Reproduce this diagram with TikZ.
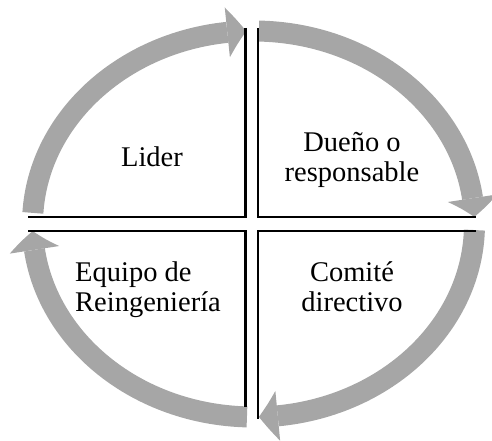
\documentclass[tikz,border=0pt]{standalone}
\usepackage{fontspec}
\setmainfont{Liberation Serif}
\usetikzlibrary{arrows.meta,bending}
\definecolor{arcgray}{HTML}{A6A6A6}
\tikzset{
  cyc/.style={draw=arcgray, line width=21pt,
    -{Triangle[width=50pt,length=19pt,line width=0pt,bend]}},
  quad/.style={draw=black, line width=2.5pt, miter limit=10},
  lbl/.style={inner sep=0pt, font=\fontsize{28.5}{30}\selectfont}
}
\begin{document}
\begin{tikzpicture}[x=1pt,y=1pt]
\useasboundingbox (0,0) rectangle (492,441);
\clip (0,0) rectangle (492,441);
\coordinate (C) at (253.5,217);
% circular arrows
\draw[cyc] (C) ++(176.7:221 and 193) arc[start angle=176.7, end angle=91.9, x radius=221, y radius=193];
\draw[cyc] (C) ++(88.6:221 and 193) arc[start angle=88.6, end angle=2.1, x radius=221, y radius=193];
\draw[cyc] (C) ++(-1.8:221 and 193) arc[start angle=-1.8, end angle=-88.6, x radius=221, y radius=193];
\draw[cyc] (C) ++(-91.7:221 and 193) arc[start angle=-91.7, end angle=-177.9, x radius=221, y radius=193];
% quadrant lines
\coordinate (tl1) at (245.5,413); \coordinate (tl2) at (245.5,224); \coordinate (tl3) at (28,224);
\coordinate (tr1) at (258,413); \coordinate (tr2) at (258,224); \coordinate (tr3) at (476,224);
\coordinate (bl1) at (28,210); \coordinate (bl2) at (245.5,210); \coordinate (bl3) at (245.5,34);
\coordinate (br1) at (476,210); \coordinate (br2) at (258,210); \coordinate (br3) at (258,22);
\draw[quad] (tl1) -- (tl2) -- (tl3);
\draw[quad] (tr1) -- (tr2) -- (tr3);
\draw[quad] (bl1) -- (bl2) -- (bl3);
\draw[quad] (br1) -- (br2) -- (br3);
% labels (base anchor = baseline of last line)
\node[lbl, anchor=base] (lider) at (152,274) {Lider};
\node[lbl, anchor=base, align=center] (dueno) at (352,259.3) {Dueño o\\responsable};
\node[lbl, anchor=base west, align=left] (equipo) at (75,129.3) {Equipo de\\Reingeniería};
\node[lbl, anchor=base, align=center] (comite) at (352,129.3) {Comité\\directivo};
\end{tikzpicture}
\end{document}
